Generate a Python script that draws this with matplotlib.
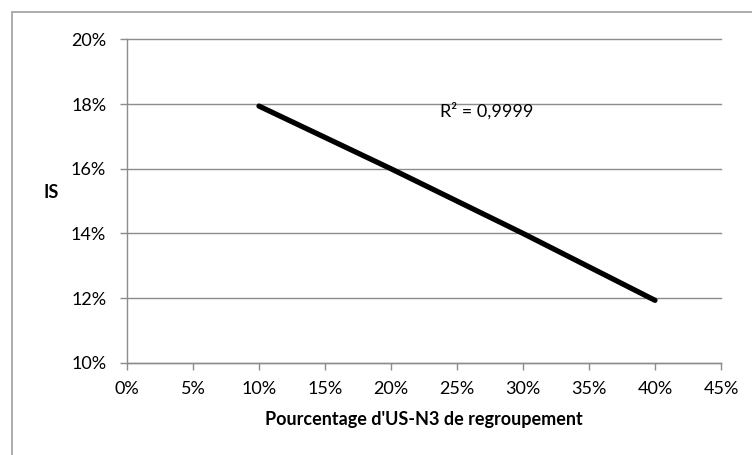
import matplotlib.pyplot as plt
from matplotlib.patches import Rectangle
from matplotlib.ticker import FuncFormatter

# data
pctRegroupement = [0.10, 0.20, 0.30, 0.40]
isValues = [0.1794, 0.1600, 0.1400, 0.1193]
r2Label = "R² = 0,9999"

xTicks = [0, 0.05, 0.10, 0.15, 0.20, 0.25, 0.30, 0.35, 0.40, 0.45]
yTicks = [0.10, 0.12, 0.14, 0.16, 0.18, 0.20]

plt.rcParams['font.family'] = ['Lato', 'DejaVu Sans']
GRAY = '#8c8c8c'
FS = 13

W, H = 752, 455
fig = plt.figure(figsize=(W / 100, H / 100), dpi=100)
ax = fig.add_axes([127 / W, 1 - 362.7 / H, (721 - 127) / W, (362.7 - 39.5) / H])

# outer chart border (cropped at right and bottom)
fig.patches.append(Rectangle((12 / W, -0.1), 1.2, 1 - 12 / H + 0.1, transform=fig.transFigure,
                             fill=False, edgecolor='#a6a6a6', linewidth=1.3))

ax.plot(pctRegroupement, isValues, color='black', linewidth=3.8, solid_capstyle='round', zorder=3)

ax.set_xlim(0, 0.45)
ax.set_ylim(0.10, 0.20)
ax.set_xticks(xTicks)
ax.set_yticks(yTicks)
pct = FuncFormatter(lambda v, p: "{:d}%".format(int(round(v * 100))))
ax.xaxis.set_major_formatter(pct)
ax.yaxis.set_major_formatter(pct)

ax.grid(axis='y', color=GRAY, linewidth=1)
for gl in ax.get_ygridlines():
    gl.set_clip_on(False)
ax.set_axisbelow(True)
for s in ['top', 'right']:
    ax.spines[s].set_visible(False)
for s in ['left', 'bottom']:
    ax.spines[s].set_color(GRAY)
    ax.spines[s].set_linewidth(1)
ax.tick_params(colors=GRAY, labelcolor='black', labelsize=FS, length=5, width=1)
ax.tick_params(axis='x', pad=8)
ax.tick_params(axis='y', pad=10)

ax.set_xlabel("Pourcentage d'US-N3 de regroupement", fontsize=FS, fontweight='bold', labelpad=10)
ax.set_ylabel("IS", fontsize=FS, fontweight='bold', rotation=0)
ax.yaxis.set_label_coords(-0.128, 0.5)

ax.text(0.2375, 0.178, r2Label, fontsize=FS, ha='left', va='center')

fig.savefig('out.png', dpi=100)
